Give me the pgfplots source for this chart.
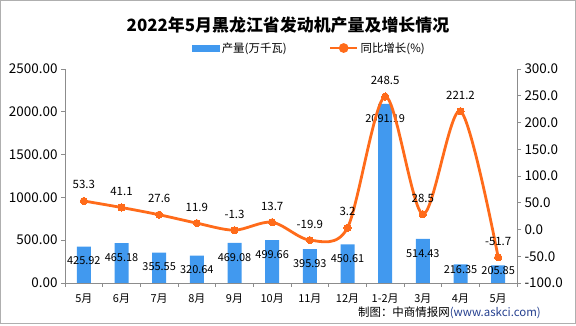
\documentclass[border=0pt]{standalone}
\usepackage{fontspec}
\setmainfont{Noto Sans CJK SC}
\usepackage{pgfplots}
\pgfplotsset{compat=1.18}
\usepackage{pgfplotstable}

\definecolor{barblue}{HTML}{4199EF}
\definecolor{lineorange}{HTML}{FF6B1A}
\definecolor{axisgray}{HTML}{8C8C8C}
\definecolor{srcblue}{HTML}{243F8F}

\pgfplotstableread{
x y l s
0 425.92 425.92 -10
1 465.18 465.18 -10
2 355.55 355.55 -10
3 320.64 320.64 -10
4 469.08 469.08 -10
5 499.66 499.66 -10
6 395.93 395.93 -10
7 450.61 450.61 -10
8 2091.19 2091.19 -10
9 514.43 514.43 -10
10 216.35 216.35 -1
11 205.85 205.85 -1
}\bardata

\pgfplotstableread{
x y l
0 53.3 53.3
1 41.1 41.1
2 27.6 27.6
3 11.9 11.9
4 -1.3 -1.3
5 13.7 13.7
6 -19.9 -19.9
7 3.2 3.2
8 248.5 248.5
9 28.5 28.5
10 221.2 221.2
11 -51.7 -51.7
}\linedata

\pgfplotsset{
  common/.style={
    at={(65bp,43bp)}, anchor=south west, scale only axis,
    width=452bp, height=214bp,
    xmin=-0.5, xmax=11.5,
    axis line style={-, draw=axisgray, line width=0.8bp},
    tick style={draw=axisgray, line width=0.8bp},
    tick align=outside,
    major tick length=4bp, minor tick length=4bp,
    /pgf/number format/assume math mode=true,
    /pgf/number format/1000 sep={},
  }
}

\begin{document}
\begin{tikzpicture}
\useasboundingbox (0bp,0bp) rectangle (576bp,326bp);
\draw[draw=axisgray!70, line width=0.8bp] (0.8bp,3bp) rectangle (575.2bp,325.2bp);

\begin{axis}[common,
  ymin=0, ymax=2500, ytick={0,500,...,2500},
  axis x line*=bottom, axis y line*=left,
  xtick={0,...,11},
  xticklabels={5月,6月,7月,8月,9月,10月,11月,12月,1-2月,3月,4月,5月},
  major x tick style={draw=none},
  minor xtick={-0.5,0.5,...,11.5},
  xticklabel style={font=\fontsize{11}{12}\selectfont, yshift=-3bp},
  yticklabel style={font=\fontsize{13.5}{14}\selectfont,
    /pgf/number format/.cd, fixed, fixed zerofill, precision=2},
]
\addplot[ybar, bar width=14bp, bar shift=0pt, fill=barblue, draw=none,
  point meta=explicit symbolic,
  nodes near coords,
  visualization depends on={\thisrow{s} \as \lblshift},
  every node near coord/.append style={font=\fontsize{11}{12}\selectfont, anchor=north, inner sep=0pt, yshift=\lblshift bp, text=black},
] table[x=x, y=y, meta=l] {\bardata};
\end{axis}

\begin{axis}[common,
  ymin=-100, ymax=300, ytick={-100,-50,...,300},
  axis y line*=right, axis x line=none,
  yticklabel style={font=\fontsize{13.5}{14}\selectfont,
    /pgf/number format/.cd, fixed, fixed zerofill, precision=1},
  legend style={at={(0.541,1.098)}, anchor=center, draw=none, fill=none,
    font=\fontsize{11.5}{12}\selectfont, legend columns=2,
    /tikz/every even column/.append style={column sep=40bp}},
]
\addlegendimage{legend image code/.code={\fill[barblue] (0bp,-3bp) rectangle (27bp,3bp);}}
\addlegendentry{产量(万千瓦)}
\addplot[lineorange, line width=2.8bp, smooth, mark=*, mark size=3.6bp,
  mark options={fill=lineorange, draw=lineorange, line width=0pt},
  legend image code/.code={\draw[lineorange, line width=2.8bp] (0bp,0bp)--(27bp,0bp); \fill[lineorange] (13.5bp,0bp) circle (3.4bp);},
  point meta=explicit symbolic,
  nodes near coords,
  every node near coord/.append style={font=\fontsize{11.5}{12}\selectfont, anchor=base, inner sep=0pt, yshift=12bp, text=black},
] table[x=x, y=y, meta=l] {\linedata};
\addlegendentry{同比增长(\%)}
\end{axis}

\node[font=\bfseries\fontsize{17}{20}\selectfont] at (288bp,301bp) {2022年5月黑龙江省发动机产量及增长情况};
\node[font=\fontsize{11.5}{12}\selectfont, anchor=east, inner sep=0pt] at (541bp,13bp) {制图：中商情报网{\color{srcblue}(www.askci.com)}};
\end{tikzpicture}
\end{document}
